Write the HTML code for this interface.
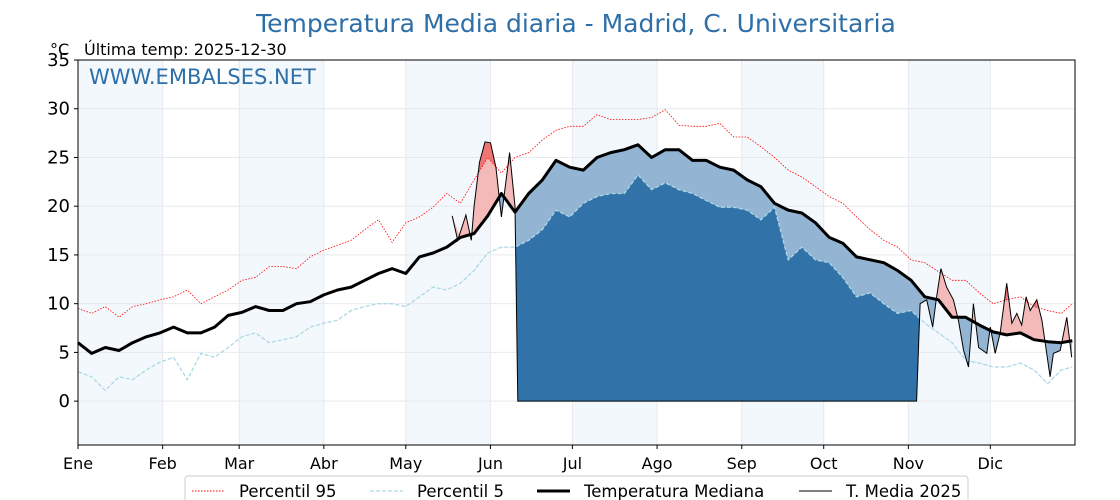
<!DOCTYPE html>
<html><head><meta charset="utf-8">
<style>
html,body{margin:0;padding:0;background:#fff;}
svg{display:block;font-family:"DejaVu Sans","Liberation Sans",sans-serif;}
</style></head>
<body>
<svg id="chart" width="1120" height="500" viewBox="0 0 1120 500" xmlns="http://www.w3.org/2000/svg">
<text x="576" y="32" text-anchor="middle" font-size="25" fill="#2e6fa7">Temperatura Media diaria - Madrid, C. Universitaria</text>
<text x="50" y="55" font-size="16" fill="#000">°C</text>
<text x="84" y="55" font-size="16" fill="#000">Última temp: 2025-12-30</text>
<g id="plot"></g>
<text x="89" y="84" font-size="21" fill="#2e6fa7">WWW.EMBALSES.NET</text>
<g id="legend">
<rect x="185" y="476" width="783" height="30" rx="3" fill="#fff" stroke="#ccc"/>
<g><line x1="192" y1="491" x2="225" y2="491" stroke="red" stroke-width="1" stroke-dasharray="1.5,1.5"/><text x="239" y="497" font-size="16.5">Percentil 95</text></g>
<g><line x1="370" y1="491" x2="403" y2="491" stroke="#add8e6" stroke-width="1.3" stroke-dasharray="4,2"/><text x="417" y="497" font-size="16.5">Percentil 5</text></g>
<g><line x1="537" y1="491" x2="570" y2="491" stroke="#000" stroke-width="3"/><text x="584" y="497" font-size="16.5">Temperatura Mediana</text></g>
<g><line x1="799" y1="491" x2="832" y2="491" stroke="#000" stroke-width="1"/><text x="846" y="497" font-size="16.5">T. Media 2025</text></g>
</g>
</svg>
<script>
const days=[0,5,10,15,20,25,30,35,40,45,50,55,60,65,70,75,80,85,90,95,100,105,110,115,120,125,130,135,140,145,150,155,160,165,170,175,180,185,190,195,200,205,210,215,220,225,230,235,240,245,250,255,260,265,270,275,280,285,290,295,300,305,310,315,320,325,330,335,340,345,350,355,360,364];
const median=[6,4.9,5.5,5.2,6,6.6,7,7.6,7,7,7.6,8.8,9.1,9.7,9.3,9.3,10,10.2,10.9,11.4,11.7,12.4,13.1,13.6,13.1,14.8,15.2,15.8,16.8,17.2,19,21.3,19.4,21.3,22.7,24.7,24,23.7,25,25.5,25.8,26.3,25,25.8,25.8,24.7,24.7,24,23.7,22.7,22,20.3,19.6,19.3,18.3,16.8,16.2,14.8,14.5,14.2,13.4,12.4,10.7,10.4,8.6,8.6,7.8,7.1,6.8,7,6.3,6.1,6,6.2];
const p95=[9.5,9,9.7,8.6,9.7,10,10.4,10.7,11.4,10,10.7,11.4,12.4,12.7,13.8,13.8,13.6,14.8,15.5,16,16.5,17.6,18.6,16.3,18.3,18.9,19.9,21.3,20.3,22.7,25,23.4,25,25.5,26.8,27.8,28.2,28.2,29.4,28.9,28.9,28.9,29.1,29.9,28.3,28.2,28.2,28.5,27.1,27.1,26.1,25,23.7,23,22,21,20.3,18.9,17.6,16.5,15.8,14.5,14.2,13.3,12.4,12.4,11.1,10,10.4,10.7,9.7,9.3,9,10];
const p5=[3,2.5,1.1,2.5,2.2,3.2,4,4.5,2.2,4.9,4.5,5.5,6.6,7,6,6.3,6.6,7.6,8,8.3,9.3,9.7,10,10,9.7,10.7,11.7,11.4,12.1,13.4,15.2,15.8,15.8,16.5,17.6,19.6,18.9,20.3,21,21.3,21.3,23.2,21.7,22.4,21.7,21.3,20.6,19.9,19.9,19.6,18.6,19.9,14.5,15.8,14.5,14.2,12.7,10.7,11.1,10,9,9.3,8,7,6,4.2,3.9,3.5,3.5,3.9,3.2,1.8,3.2,3.5];
const days2025=[137,139,142,144,145,147,149,151,153,155,158,160,161,200,250,307,308.3,310.7,312.9,314.2,315.9,318,320.5,322.3,324.2,326,327.8,329.7,332.7,334,335.8,337.6,340,341.9,343.7,345.5,347.1,348.6,351,352.9,355.9,357.1,359.6,362,363.8];
const t2025=[19,16.5,19.1,16.5,20,24.5,26.6,26.5,24,18.9,25.5,20,0,0,0,0,10,10.4,7.6,10.4,13.6,11.7,10.4,8.3,5.2,3.5,10,5.5,4.9,7.6,4.9,7,12.1,8,9,7.8,10.7,9.3,10.4,8.3,2.5,4.9,5.2,8.6,4.5];
const yTicks=[0,5,10,15,20,25,30,35];
const monthLabels=["Ene","Feb","Mar","Abr","May","Jun","Jul","Ago","Sep","Oct","Nov","Dic"];
const monthStarts=[0,31,59,90,120,151,181,212,243,273,304,334];

const X0=78,X1=1075,Y0=60,Y1=445,DMIN=-4.5,DMAX=35;
const xs=d=>X0+d*(X1-X0)/365;
const ys=v=>Y1-(v-DMIN)*(Y1-Y0)/(DMAX-DMIN);
const NS="http://www.w3.org/2000/svg";
const plot=document.getElementById('plot');
function mk(tag,attrs,parent){const e=document.createElementNS(NS,tag);for(const k in attrs)e.setAttribute(k,attrs[k]);(parent||plot).appendChild(e);return e;}
const defs=mk('defs',{});
monthStarts.forEach((m,i)=>{
  if(i%2===0){const end=i+1<12?monthStarts[i+1]:365;
    const r=mk('rect',{x:xs(m),y:Y0,width:xs(end)-xs(m),height:Y1-Y0,fill:'#f3f8fc'});
    
    }
});
yTicks.forEach(t=>{const l=mk('line',{x1:X0,x2:X1,y1:ys(t),y2:ys(t),stroke:'#e6e9ee','stroke-width':1});
  
  });
monthStarts.forEach(m=>{const l=mk('line',{x1:xs(m),x2:xs(m),y1:Y0,y2:Y1,stroke:'#e6e9ee','stroke-width':1});
  
  });
const pts=(ds,vs)=>ds.map((d,i)=>xs(d).toFixed(1)+','+ys(vs[i]).toFixed(1));
const mIdx=days.map((d,i)=>i).filter(i=>days[i]>=days2025[0]);
const t2025Pts=pts(days2025,t2025);
function rev(ds,vs,idx){return idx.slice().reverse().map(i=>xs(ds[i]).toFixed(1)+','+ys(vs[i]).toFixed(1));}
function clip(id,ds,vs,above){const c=mk('clipPath',{id:id},defs);
  const p=pts(ds,vs);const ey=above?Y0-20:Y1+20;
  mk('polygon',{points:[xs(0)+','+ey,...p,xs(365)+','+ey].join(' ')},c);}
clip('cAboveMed',days,median,true);clip('cBelowMed',days,median,false);
clip('cAboveP95',days,p95,true);clip('cBelowP5',days,p5,false);
const polyMed=[...t2025Pts,...rev(days,median,mIdx)].join(' ');
const polyP95=[...t2025Pts,...rev(days,p95,mIdx)].join(' ');
const polyP5=[...t2025Pts,...rev(days,p5,mIdx)].join(' ');
let f;
f=mk('polygon',{points:polyMed,fill:'#f4baba','clip-path':'url(#cAboveMed)'});


f=mk('polygon',{points:polyMed,fill:'#93b4d2','clip-path':'url(#cBelowMed)'});


f=mk('polygon',{points:polyP95,fill:'#ef7474','clip-path':'url(#cAboveP95)'});


f=mk('polygon',{points:polyP5,fill:'#3173a8','clip-path':'url(#cBelowP5)'});


let ln;
ln=mk('polyline',{points:pts(days,p95).join(' '),fill:'none',stroke:'red','stroke-width':0.8,'stroke-dasharray':'1.5,1.5'});


ln=mk('polyline',{points:pts(days,p5).join(' '),fill:'none',stroke:'#add8e6','stroke-width':1.3,'stroke-dasharray':'4,2'});


ln=mk('polyline',{points:pts(days,median).join(' '),fill:'none',stroke:'#000','stroke-width':3,'stroke-linejoin':'round'});


ln=mk('polyline',{points:t2025Pts.join(' '),fill:'none',stroke:'#000','stroke-width':1});


const fr=mk('rect',{x:X0,y:Y0,width:X1-X0,height:Y1-Y0,fill:'none',stroke:'#000','stroke-width':1});


yTicks.forEach(t=>{mk('line',{x1:X0-4,x2:X0,y1:ys(t),y2:ys(t),stroke:'#000'});
  const tx=mk('text',{x:X0-8,y:ys(t)+6,'text-anchor':'end','font-size':18});tx.textContent=t;
  
  });
monthStarts.forEach((m,i)=>{mk('line',{x1:xs(m),x2:xs(m),y1:Y1,y2:Y1+4,stroke:'#000'});
  const tx=mk('text',{x:xs(m),y:Y1+24,'text-anchor':'middle','font-size':16});tx.textContent=monthLabels[i];
  
  });
</script>
</body></html>
